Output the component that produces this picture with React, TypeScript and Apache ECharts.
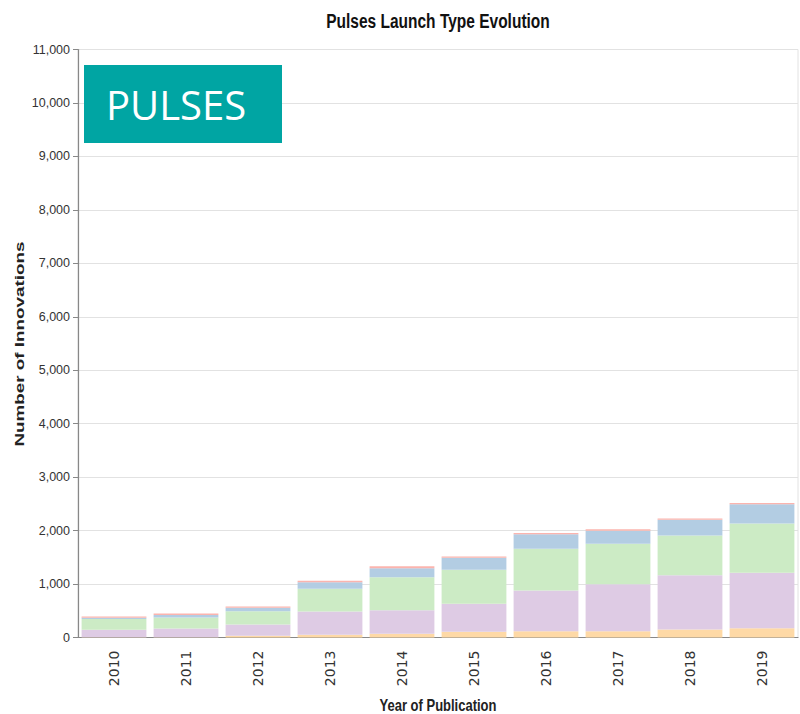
import React, { useEffect, useRef } from "react";
import * as echarts from "echarts";

const years = ["2010", "2011", "2012", "2013", "2014", "2015", "2016", "2017", "2018", "2019"];
const relaunch = [4, 5, 31, 50, 69, 106, 118, 118, 150, 175];
const newVariety = [140, 164, 212, 436, 442, 524, 761, 880, 1016, 1035];
const newProduct = [200, 206, 250, 424, 617, 636, 779, 754, 741, 923];
const newPackaging = [25, 44, 62, 125, 169, 224, 275, 243, 294, 361];
const newFormulation = [25, 30, 25, 25, 35, 25, 20, 30, 25, 20];

const seriesDefs = [
  { name: "Relaunch", data: relaunch, color: "#fed9a6" },
  { name: "New Variety/Range Extension", data: newVariety, color: "#decbe4" },
  { name: "New Product", data: newProduct, color: "#ccebc5" },
  { name: "New Packaging", data: newPackaging, color: "#b3cde3" },
  { name: "New Formulation", data: newFormulation, color: "#fbb4ae" },
];

export default function App() {
  const ref = useRef<HTMLDivElement>(null);
  useEffect(() => {
    if (!ref.current) return;
    const chart = echarts.init(ref.current, undefined, { renderer: "svg" });
    chart.setOption({
      animation: false,
      backgroundColor: "#ffffff",
      grid: {
        left: 78,
        right: 2,
        top: 49.5,
        bottom: 76.5,
        show: true,
        borderColor: "#e2e2e2",
        borderWidth: 1,
        backgroundColor: "transparent",
      },
      xAxis: {
        type: "category",
        data: years,
        axisLine: { lineStyle: { color: "#888888", width: 1.2 } },
        axisTick: { alignWithLabel: true, length: 5, lineStyle: { color: "#888888" } },
        axisLabel: {
          rotate: 90,
          margin: 13,
          fontFamily: "DejaVu Sans",
          fontSize: 14,
          color: "#333333",
        },
      },
      yAxis: {
        type: "value",
        min: 0,
        max: 11000,
        interval: 1000,
        axisLine: { show: true, lineStyle: { color: "#888888", width: 1.2 } },
        axisTick: { show: true, length: 5, lineStyle: { color: "#888888" } },
        axisLabel: {
          margin: 8,
          fontFamily: "Liberation Sans",
          fontSize: 12.5,
          color: "#333333",
          formatter: (v: number) => v.toLocaleString("en-US"),
        },
        splitLine: { lineStyle: { color: "#e2e2e2", width: 1.2 } },
      },
      series: seriesDefs.map((s) => ({
        name: s.name,
        type: "bar",
        stack: "total",
        data: s.data,
        barCategoryGap: "10%",
        itemStyle: { color: s.color },
      })),
      graphic: {
        elements: [
          {
            type: "text",
            x: 438,
            y: 21,
            scaleY: 1.3,
            z: 100,
            style: {
              text: "Pulses Launch Type Evolution",
              font: "bold 15.5px 'Liberation Sans'",
              fill: "#111111",
              align: "center",
              verticalAlign: "middle",
            },
          },
          {
            type: "text",
            x: 19,
            y: 344,
            rotation: Math.PI / 2,
            scaleX: 1.45,
            z: 100,
            style: {
              text: "Number of Innovations",
              font: "bold 13px 'Liberation Sans'",
              fill: "#222222",
              align: "center",
              verticalAlign: "middle",
            },
          },
          {
            type: "text",
            x: 438,
            y: 705,
            scaleY: 1.3,
            z: 100,
            style: {
              text: "Year of Publication",
              font: "bold 13px 'Liberation Sans'",
              fill: "#222222",
              align: "center",
              verticalAlign: "middle",
            },
          },
          {
            type: "rect",
            z: 100,
            shape: { x: 84, y: 65, width: 198, height: 78 },
            style: { fill: "#00a5a3" },
          },
          {
            type: "text",
            x: 106,
            y: 104,
            z: 101,
            style: {
              text: "PULSES",
              font: "40px 'Open Sans'",
              fill: "#ffffff",
              align: "left",
              verticalAlign: "middle",
            },
          },
        ],
      },
    });
    return () => chart.dispose();
  }, []);
  return <div ref={ref} style={{ width: 800, height: 714, position: "absolute", left: 0, top: 0 }} />;
}
